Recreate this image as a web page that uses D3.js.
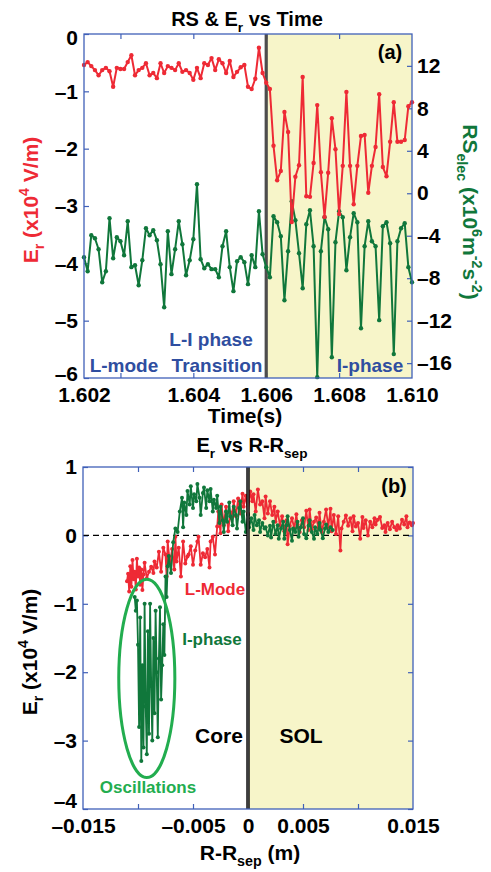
<!DOCTYPE html>
<html>
<head>
<meta charset="utf-8">
<script src="https://cdn.jsdelivr.net/npm/d3@7"></script>
<style>
body { margin: 0; background: #fff; }
text { font-family: "Liberation Sans", Arial, sans-serif; font-weight: bold; }
</style>
</head>
<body>
<svg width="491" height="872"></svg>
<script>
// ---- panel (a): time traces, sampled every 0.1 ms from t0 ----
var t0 = 1.601, dt = 0.0001
var erTime = [
  -0.54,-0.49,-0.56,-0.63,-0.72,-0.63,-0.59,-0.65,-0.92,-0.59,
  -0.61,-0.61,-0.49,-0.37,-0.72,-0.63,-0.59,-0.51,-0.72,-0.68,
  -0.77,-0.51,-0.68,-0.56,-0.59,-0.63,-0.51,-0.66,-0.63,-0.68,
  -0.80,-0.59,-0.77,-0.51,-0.54,-0.42,-0.63,-0.44,-0.51,-0.68,
  -0.47,-0.75,-0.66,-0.58,-0.54,-0.92,-0.96,-0.78,-0.24,-0.68,
  -0.85,-0.96,
  -1.95,-2.55,-2.39,-1.36,-1.71,-3.28,-2.49,-2.29,-0.75,-2.83,
  -2.84,-2.25,-1.24,-2.41,-3.19,-2.42,-1.47,-2.01,-3.14,-2.30,
  -1.01,-2.30,-2.97,-2.30,-1.78,-1.76,-2.77,-2.30,-1.97,-1.05,
  -2.32,-2.48,-1.88,-1.19,-1.88,-1.88,-1.85,-1.26,-1.19
]
var rsTime = [
  -6.02,-7.34,-3.95,-4.24,-5.27,-8.38,-7.34,-2.35,-6.12,-4.14,
  -4.52,-5.84,-2.64,-6.96,-6.78,-8.66,-6.31,-3.29,-3.95,-3.48,
  -4.42,-6.68,-10.73,-3.58,-7.62,-5.27,
  -2.64,-4.80,-7.72,-6.31,-4.33,0.85,-6.21,-7.06,-6.68,-7.15,
  -7.15,-7.91,-4.99,-3.58,-6.96,-9.22,-6.40,-6.02,-6.49,-8.56,
  -5.84,-6.96,-1.69,-5.74,-6.96,
  -7.91,-2.16,-2.73,-4.05,-10.07,-5.46,-0.75,-2.54,-5.65,-8.94,
  -2.92,-1.60,-4.99,-17.32,-5.46,-2.26,-3.39,-15.44,-4.61,-1.69,
  -2.26,-7.25,-4.14,-1.88,-2.73,-12.71,-4.99,-2.64,-4.52,-4.99,
  -11.95,-3.11,-2.73,-4.71,-15.15,-4.52,-3.29,-2.82,-6.96,-8.38
]
var iphaseStart = 1.606
var timeTicks = [1.602, 1.604, 1.606, 1.608]
var timeLabelAt = [1.601, 1.604, 1.606, 1.608, 1.610]
var timeLabels = ["1.602", "1.604", "1.606", "1.608", "1.610"]
var erTicks = [-6, -5, -4, -3, -2, -1, 0]
var rsTicks = [-16, -12, -8, -4, 0, 4, 8, 12]

// ---- panel (b): Er profiles vs R-Rsep (R in mm) ----
var lmodeR = [
  -11.0,-10.9,-10.8,-10.7,-10.6,-10.5,-10.4,-10.3,-10.2,-10.1,
  -10.0,-9.9,-9.8,-9.7,-9.6,-9.5,-9.4,-9.2,-9.0,-8.8,
  -8.6,-8.5,-8.3,-8.1,-7.9,-7.7,-7.5,-7.4,-7.3,-7.1,
  -6.9,-6.7,-6.6,-6.5,-6.3,-6.1,-5.9,-5.7,-5.5,-5.4,
  -5.2,-5.0,-4.8,-4.6,-4.5,-4.3,-4.1,-3.9,-3.7,-3.5,
  -3.4,-3.2,-3.0,-2.8,-2.7,-2.5,-2.4,-2.2,-2.0,-1.8,
  -1.6,-1.5,-1.3,-1.1,-0.9,-0.7,-0.5,-0.4,-0.2,0.0,
  0.2,0.4,0.5,0.7,0.9,1.1,1.3,1.5,1.6,1.8,
  2.0,2.2,2.4,2.5,2.7,2.9,3.1,3.3,3.5,3.6,
  3.8,4.0,4.2,4.4,4.5,4.7,4.9,5.1,5.3,5.5,
  5.6,5.8,6.0,6.2,6.4,6.5,6.7,6.9,7.1,7.3,
  7.5,7.6,7.8,8.0,8.2,8.4,8.5,8.7,8.9,9.1,
  9.3,9.5,9.6,9.8,10.0,10.2,10.4,10.5,10.7,10.9,
  11.1,11.3,11.5,11.6,11.8,12.0,12.2,12.4,12.5,12.7,
  12.9,13.1,13.3,13.5,13.6,13.8,14.0,14.2,14.4,14.5,
  14.7,14.9,15.0
]
var lmodeEr = [
  -0.67,-0.56,-0.82,-0.45,-0.75,-0.36,-0.64,-0.53,-0.79,-0.34,
  -0.60,-0.47,-0.72,-0.50,-0.80,-0.57,-0.40,-0.63,-0.53,-0.46,
  -0.55,-0.38,-0.47,-0.24,-0.53,-0.18,-0.28,-0.60,-0.09,-0.41,
  -0.20,-0.50,-0.02,-0.38,-0.18,-0.60,-0.09,-0.41,-0.31,-0.28,
  -0.16,-0.43,-0.22,-0.09,-0.02,-0.43,-0.26,-0.32,-0.20,-0.47,
  -0.09,-0.02,-0.28,0.13,0.35,0.03,0.45,0.15,0.42,0.06,
  0.34,0.25,0.50,0.28,0.54,0.32,0.61,0.42,0.58,0.32,
  0.64,0.50,0.60,0.35,0.67,0.45,0.50,0.25,0.57,0.32,
  0.50,0.30,0.42,0.20,0.35,0.15,0.28,0.06,0.22,-0.13,
  0.14,0.25,0.10,0.31,0.16,0.05,0.22,0.12,0.36,0.08,
  0.38,0.09,0.20,0.26,0.11,0.33,0.05,0.20,0.38,0.12,
  0.39,0.06,0.30,0.02,0.28,-0.22,0.10,0.20,0.29,0.14,
  0.25,0.06,0.28,0.13,0.18,-0.05,0.27,0.11,0.22,0.00,
  0.20,0.12,0.25,0.16,0.23,0.27,0.11,0.15,0.05,0.18,
  0.09,0.20,0.12,0.08,0.15,0.10,0.23,0.16,0.28,0.12,
  0.19,0.15,0.18
]
var iphaseR = [
  -10.3,-10.2,-10.1,-10.0,-9.9,-9.8,-9.7,-9.6,-9.5,-9.4,
  -9.3,-9.2,-9.1,-9.0,-8.9,-8.8,-8.7,-8.6,-8.5,-8.4,
  -8.3,-8.2,-8.1,-8.0,-7.9,-7.8,-7.7,-7.6,-7.5,-7.4,
  -7.3,-7.2,-7.0,-6.8,-6.6,-6.4,-6.2,-6.0,-5.9,-5.8,
  -5.6,-5.5,-5.3,-5.2,-5.0,-4.9,-4.7,-4.6,-4.4,-4.3,
  -4.1,-4.0,-3.8,-3.7,-3.5,-3.4,-3.2,-3.1,-2.9,-2.8,
  -2.6,-2.5,-2.3,-2.2,-2.0,-1.9,-1.7,-1.6,-1.4,-1.3,
  -1.1,-1.0,-0.8,-0.7,-0.5,-0.4,-0.2,0.0,0.1,0.3,
  0.5,0.6,0.8,1.0,1.1,1.3,1.5,1.6,1.8,2.0,
  2.1,2.3,2.5,2.7,2.8,3.0,3.2,3.3,3.5,3.6,
  3.8,4.0,4.1,4.3,4.5,4.6,4.8,5.0,5.1,5.3,
  5.5,5.6,5.8,6.0,6.1,6.3,6.5,6.6,6.8,7.0,
  7.1,7.3,7.5,7.7
]
var iphaseEr = [
  -0.90,-1.10,-0.95,-1.60,-2.80,-1.20,-3.30,-1.90,-3.10,-1.00,
  -2.50,-3.20,-1.40,-2.90,-1.00,-2.20,-3.00,-1.50,-2.60,-1.10,
  -2.00,-2.95,-1.80,-1.05,-2.40,-1.90,-1.30,-1.75,-0.60,-0.90,
  -0.45,-0.30,-0.55,-0.10,0.10,0.05,0.35,0.55,0.12,0.48,
  0.30,0.65,0.45,0.72,0.40,0.60,0.50,0.75,0.55,0.30,
  0.62,0.70,0.40,0.66,0.50,0.68,0.35,0.52,0.40,0.58,
  0.18,0.42,0.22,0.05,0.35,0.20,0.48,0.28,0.15,0.42,
  0.30,0.10,0.40,0.50,0.20,0.35,0.05,0.30,0.12,0.25,
  0.08,0.30,0.15,0.22,0.05,0.18,0.10,0.12,0.00,0.14,
  -0.03,0.20,0.02,0.15,-0.05,0.10,0.20,-0.05,0.15,0.28,
  0.08,-0.08,0.10,0.05,0.20,-0.02,0.12,0.25,0.02,-0.04,
  0.14,0.22,0.05,-0.05,0.12,0.02,0.18,0.08,-0.04,0.10,
  0.16,0.05,0.12,0.08
]
var rTicks = [-10, -5, 0, 5, 10]
var rLabelAt = [-15, -5, 0, 5, 15]
var rLabels = ["\u20130.015", "\u20130.005", "0", "0.005", "0.015"]
var erProfTicks = [-4, -3, -2, -1, 0, 1]
var oscCenter = [-9.2, -2.09], oscRadii = [2.55, 1.45]

var red = "#ee2a35", dkgreen = "#10773b", ltgreen = "#22ad4f",
	blue = "#4060b8", txtblue = "#2f4ea0", yellow = "#f7f5c9"

var svg = d3.select("svg")

function fmtNum(d) { return d < 0 ? "\u2013" + Math.abs(d) : "" + d }

// text with sub/superscript parts: ["E", ["r","sub"], ...]
function rich(sel, parts, size) {
	var cur = 0
	parts.forEach(function(p) {
		var s = typeof p === "string" ? p : p[0]
		var k = typeof p === "string" ? "" : p[1]
		var off = k == "sub" ? 0.3 * size : k == "sup" ? -0.42 * size : 0
		sel.append("tspan").attr("dy", off - cur).attr("font-size", k ? size * 0.68 : size).text(s)
		cur = off
	})
	return sel
}

function styleAxis(g) {
	g.select(".domain").remove()
	g.attr("font-family", null).attr("font-size", null)
	g.selectAll(".tick line").attr("stroke", blue).attr("stroke-width", 1.2)
	g.selectAll(".tick text").attr("fill", "#000").attr("font-size", 21)
}

// nudge an end label off the corner (px, + is down)
function nudge(g, value, px) {
	g.selectAll(".tick").filter(function(d) { return d === value })
		.select("text").attr("dy", (6.7 + px) + "px")
}

// ===================== panel (a) =====================
var A = { l: 84, r: 412, t: 34, b: 378 }
var xT = d3.scaleLinear().domain([t0, 1.610]).range([A.l, A.r])
var yEr = d3.scaleLinear().domain([-6, 0]).range([A.b, A.t])
var yRS = d3.scaleLinear().domain([-17.4, 15]).range([A.b, A.t])
var times = erTime.map(function(_, i) { return t0 + i * dt })

svg.append("rect").attr("x", xT(iphaseStart)).attr("y", A.t)
	.attr("width", xT(1.610) - xT(iphaseStart)).attr("height", A.b - A.t).attr("fill", yellow)

svg.append("g").attr("transform", "translate(0," + A.b + ")")
	.call(d3.axisBottom(xT).tickValues(timeTicks).tickSize(-5).tickFormat("")).call(styleAxis)
svg.append("g").attr("transform", "translate(0," + A.t + ")")
	.call(d3.axisTop(xT).tickValues(timeTicks).tickSize(-5).tickFormat("")).call(styleAxis)
svg.append("g").attr("transform", "translate(0," + A.b + ")")
	.call(d3.axisBottom(xT).tickValues(timeLabelAt).tickSize(0).tickPadding(9)
		.tickFormat(function(d, i) { return timeLabels[i] })).call(styleAxis)
var erAxis = svg.append("g").attr("transform", "translate(" + A.l + ",0)")
	.call(d3.axisLeft(yEr).tickValues(erTicks).tickSize(-5).tickPadding(6).tickFormat(fmtNum)).call(styleAxis)
nudge(erAxis, -6, -4)
nudge(erAxis, 0, 4)
svg.append("g").attr("transform", "translate(" + A.r + ",0)")
	.call(d3.axisRight(yRS).tickValues(rsTicks).tickSize(-5).tickPadding(5).tickFormat(fmtNum)).call(styleAxis)

svg.append("line").attr("x1", xT(iphaseStart)).attr("x2", xT(iphaseStart))
	.attr("y1", A.t).attr("y2", A.b).attr("stroke", "#4d4d4d").attr("stroke-width", 3.2)

function trace(xs, ys, xsc, ysc, col, lw, rad) {
	var pts = xs.map(function(x, i) { return [xsc(x), ysc(ys[i])] })
	svg.append("path").attr("d", d3.line()(pts)).attr("fill", "none")
		.attr("stroke", col).attr("stroke-width", lw).attr("stroke-linejoin", "round")
	svg.append("g").selectAll("circle").data(pts).enter().append("circle")
		.attr("cx", function(d) { return d[0] }).attr("cy", function(d) { return d[1] })
		.attr("r", rad).attr("fill", col)
}

trace(times, rsTime, xT, yRS, dkgreen, 2, 2.2)
trace(times, erTime, xT, yEr, red, 2, 2.2)

svg.append("rect").attr("x", A.l).attr("y", A.t).attr("width", A.r - A.l).attr("height", A.b - A.t)
	.attr("fill", "none").attr("stroke", blue).attr("stroke-width", 1.3)

rich(svg.append("text").attr("x", 247).attr("y", 26).attr("text-anchor", "middle"),
	["RS & E", ["r", "sub"], ["\u00a0vs Time", ""]], 20)
svg.append("text").attr("x", 390).attr("y", 59).attr("text-anchor", "middle").attr("font-size", 20).text("(a)")

var ann = svg.append("g").attr("fill", txtblue).attr("font-size", 19).attr("text-anchor", "middle")
ann.append("text").attr("x", 211).attr("y", 346).text("L-I phase")
ann.append("text").attr("x", 124).attr("y", 372).text("L-mode")
ann.append("text").attr("x", 217).attr("y", 372).text("Transition")
ann.append("text").attr("x", 370).attr("y", 372).text("I-phase")

svg.append("text").attr("x", 245).attr("y", 423).attr("text-anchor", "middle").attr("font-size", 21).text("Time(s)")

rich(svg.append("text").attr("transform", "translate(31,200) rotate(-90)").attr("y", 7)
	.attr("text-anchor", "middle").attr("fill", red),
	["E", ["r", "sub"], [" (x10", ""], ["4", "sup"], [" V/m)", ""]], 21)
rich(svg.append("text").attr("transform", "translate(470,212) rotate(90)").attr("y", 7)
	.attr("text-anchor", "middle").attr("fill", dkgreen),
	["RS", ["elec", "sub"], [" (x10", ""], ["6", "sup"], ["m", ""], ["-2", "sup"], ["s", ""], ["-2", "sup"], [")", ""]], 21)

// ===================== panel (b) =====================
var B = { l: 83, r: 413, t: 467, b: 809 }
var xR = d3.scaleLinear().domain([-15, 15]).range([B.l, B.r])
var yB = d3.scaleLinear().domain([-4, 1]).range([B.b, B.t])

svg.append("rect").attr("x", xR(0)).attr("y", B.t).attr("width", xR(15) - xR(0))
	.attr("height", B.b - B.t).attr("fill", yellow)

svg.append("g").attr("transform", "translate(0," + B.b + ")")
	.call(d3.axisBottom(xR).tickValues(rTicks).tickSize(-5).tickFormat("")).call(styleAxis)
svg.append("g").attr("transform", "translate(0," + B.t + ")")
	.call(d3.axisTop(xR).tickValues(rTicks).tickSize(-5).tickFormat("")).call(styleAxis)
svg.append("g").attr("transform", "translate(0," + B.b + ")")
	.call(d3.axisBottom(xR).tickValues(rLabelAt).tickSize(0).tickPadding(9)
		.tickFormat(function(d, i) { return rLabels[i] })).call(styleAxis)
var erbAxis = svg.append("g").attr("transform", "translate(" + B.l + ",0)")
	.call(d3.axisLeft(yB).tickValues(erProfTicks).tickSize(-5).tickPadding(6).tickFormat(fmtNum)).call(styleAxis)
nudge(erbAxis, -4, -8)
svg.append("g").attr("transform", "translate(" + B.r + ",0)")
	.call(d3.axisRight(yB).tickValues(erProfTicks).tickSize(-5).tickFormat("")).call(styleAxis)

svg.append("line").attr("x1", B.l).attr("x2", B.r).attr("y1", yB(0)).attr("y2", yB(0))
	.attr("stroke", "#000").attr("stroke-width", 1.2).attr("stroke-dasharray", "6,4")

trace(lmodeR, lmodeEr, xR, yB, red, 1.8, 2)
trace(iphaseR, iphaseEr, xR, yB, dkgreen, 1.8, 2)

svg.append("line").attr("x1", xR(0)).attr("x2", xR(0)).attr("y1", B.t).attr("y2", B.b)
	.attr("stroke", "#000").attr("stroke-width", 3.4)
svg.append("line").attr("x1", xR(0)).attr("x2", xR(0)).attr("y1", B.t).attr("y2", B.b)
	.attr("stroke", "#999").attr("stroke-width", 0.8)

svg.append("ellipse").attr("cx", xR(oscCenter[0])).attr("cy", yB(oscCenter[1]))
	.attr("rx", xR(oscCenter[0] + oscRadii[0]) - xR(oscCenter[0]))
	.attr("ry", yB(oscCenter[1] - oscRadii[1]) - yB(oscCenter[1]))
	.attr("fill", "none").attr("stroke", ltgreen).attr("stroke-width", 3)

svg.append("rect").attr("x", B.l).attr("y", B.t).attr("width", B.r - B.l).attr("height", B.b - B.t)
	.attr("fill", "none").attr("stroke", blue).attr("stroke-width", 1.3)

rich(svg.append("text").attr("x", 252).attr("y", 452).attr("text-anchor", "middle"),
	["E", ["r", "sub"], ["\u00a0vs R-R", ""], ["sep", "sub"]], 20)
svg.append("text").attr("x", 394).attr("y", 493).attr("text-anchor", "middle").attr("font-size", 20).text("(b)")

svg.append("text").attr("x", 215).attr("y", 595).attr("text-anchor", "middle").attr("font-size", 17)
	.attr("fill", red).text("L-Mode")
svg.append("text").attr("x", 212).attr("y", 645).attr("text-anchor", "middle").attr("font-size", 17)
	.attr("fill", dkgreen).text("I-phase")
svg.append("text").attr("x", 219).attr("y", 743).attr("text-anchor", "middle").attr("font-size", 21).text("Core")
svg.append("text").attr("x", 301).attr("y", 743).attr("text-anchor", "middle").attr("font-size", 21).text("SOL")
svg.append("text").attr("x", 148).attr("y", 793).attr("text-anchor", "middle").attr("font-size", 17)
	.attr("fill", ltgreen).text("Oscillations")

rich(svg.append("text").attr("x", 250).attr("y", 860).attr("text-anchor", "middle"),
	["R-R", ["sep", "sub"], [" (m)", ""]], 21)
rich(svg.append("text").attr("transform", "translate(30,652) rotate(-90)").attr("y", 7)
	.attr("text-anchor", "middle").attr("fill", "#000"),
	["E", ["r", "sub"], [" (x10", ""], ["4", "sup"], [" V/m)", ""]], 21)
</script>
</body>
</html>
